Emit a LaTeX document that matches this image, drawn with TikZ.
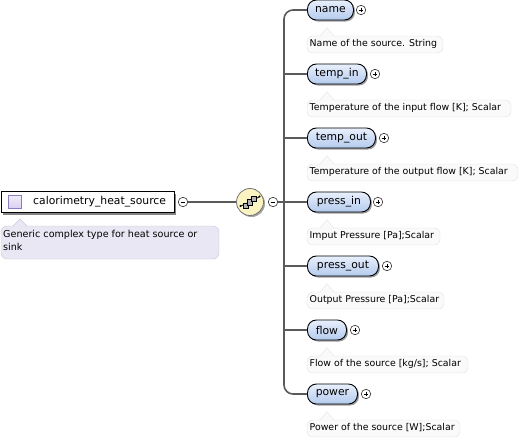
\documentclass[tikz,border=0pt]{standalone}
\usepackage{fontspec}
\setmainfont{DejaVu Sans}
\usetikzlibrary{shadows,calc}
\definecolor{linegray}{HTML}{5A5A5A}
\definecolor{elemtop}{HTML}{E8F0FC}
\definecolor{elembot}{HTML}{B4CAEE}
\definecolor{annfill}{HTML}{FAFAFA}
\definecolor{annline}{HTML}{E2E2E2}
\definecolor{rootann}{HTML}{E9E7F3}
\definecolor{rootannline}{HTML}{CBC7DE}
\definecolor{seqfill}{HTML}{FBF3C2}
\definecolor{iconfill}{HTML}{D8D0F0}
\definecolor{iconline}{HTML}{8C7CC0}
\tikzset{
  conn/.style={draw=linegray, line width=1.6pt},
  elem/.style={draw=black, line width=0.9pt, rounded corners=9pt, top color=elemtop, bottom color=elembot,
    minimum height=20pt, inner sep=0pt, anchor=west, font=\fontsize{10.8}{12}\selectfont,
    drop shadow={shadow xshift=1.5pt, shadow yshift=-1.5pt, fill=black!55, opacity=0.7}},
  pm/.style={circle, draw=black!80, fill=white, line width=0.6pt, minimum size=9.5pt, inner sep=0pt},
}
\newcommand{\plussign}[1]{\draw[line width=0.7pt] ($(#1)+(-2.4,0)$) -- ($(#1)+(2.4,0)$) ($(#1)+(0,-2.4)$) -- ($(#1)+(0,2.4)$);}
\newcommand{\minussign}[1]{\draw[line width=0.7pt] ($(#1)+(-2.4,0)$) -- ($(#1)+(2.4,0)$);}
\begin{document}
\begin{tikzpicture}[x=1pt,y=-1pt]
\useasboundingbox (0,0) rectangle (526,440);
\fill[white] (0,0) rectangle (526,440);

% root annotation
\draw[draw=rootannline, fill=rootann, rounded corners=6pt] (1,226) rectangle (219,259);
\fill[rootann] (13,226.6) -- (20,219) -- (27,226.6) -- cycle;
\draw[rootannline] (13,226) -- (20,219) -- (27,226);
\node[anchor=north west, inner sep=0pt, align=left, font=\fontsize{9.6}{13}\selectfont] (rootann) at (3,230)
  {Generic complex type for heat source or\\sink};

% root box
\node[draw=black, line width=1pt, fill=white, minimum width=173pt, minimum height=21pt, inner sep=0pt,
  drop shadow={shadow xshift=2pt, shadow yshift=-2pt, fill=black!60, opacity=0.8}, anchor=west] (root) at (0.5,202) {};
\node[draw=iconline, top color=iconfill!40, bottom color=iconfill, minimum size=13pt, inner sep=0pt, line width=0.8pt] (icon) at (15,202) {};
\node[anchor=west, inner sep=0pt, font=\fontsize{10.8}{12}\selectfont] (roottxt) at (33,202) {calorimetry\_heat\_source};

% root minus
\node[pm] (rm) at (183,202) {};
\minussign{rm}

% sequence compositor
\node[circle, draw=black!55, fill=seqfill, minimum width=27pt, inner sep=0pt, line width=0.8pt,
  drop shadow={shadow xshift=1.5pt, shadow yshift=-1.5pt, fill=black!50, opacity=0.7}] (seq) at (250,202) {};
\begin{scope}[shift={(250,202)}]
  \draw[line width=0.7pt] (-9,4) -- (9,-5);
  \fill (-9.5,4) circle (1.2pt); \fill (9.5,-5.5) circle (1.2pt);
  \draw[fill=gray!60, line width=0.6pt] (-7,1) rectangle (-1.5,6.5);
  \draw[fill=gray!60, line width=0.6pt] (-3,-2.5) rectangle (2.5,3);
  \draw[fill=gray!60, line width=0.6pt] (1,-6) rectangle (6.5,-0.5);
\end{scope}
\node[pm] (sm) at (273,202) {};
\minussign{sm}

\draw[conn] (rm.east) -- (seq.west);
\draw[conn] (sm.east) -- (284,202);

% children
\foreach \nm/\txt/\w/\y/\px/\ann/\aw in {
  n1/name/46/10/361/{Name of the source. String}/136,
  n2/temp\_in/59/74/375/{Temperature of the input flow [K]; Scalar}/204,
  n3/temp\_out/68/138/384/{Temperature of the output flow [K]; Scalar}/211,
  n4/press\_in/63/202/378/{Imput Pressure [Pa];Scalar}/133,
  n5/press\_out/71/266/387/{Output Pressure [Pa];Scalar}/137,
  n6/flow/39/330/355/{Flow of the source [kg/s]; Scalar}/161,
  n7/power/50/394/366/{Power of the source [W];Scalar}/153}{
  \node[elem, minimum width=\w pt] (\nm) at (307,\y) {\txt};
  \node[pm] (\nm p) at (\px,\y) {};
  \plussign{\nm p}
  \draw[draw=annline, fill=annfill, rounded corners=6pt] (307,\y+26) rectangle ++(\aw,17);
  \fill[annfill] (320,\y+26.6) -- (327,\y+18) -- (334,\y+26.6) -- cycle;
  \draw[annline] (320,\y+26) -- (327,\y+18) -- (334,\y+26);
  \node[anchor=west, inner sep=0pt, font=\fontsize{9.4}{10}\selectfont] (\nm a) at (309.5,\y+34) {\ann};
}

% connectors to children
\draw[conn, rounded corners=9pt] (n1.west) -| (284,202) |- (n7.west);
\foreach \nm in {n2,n3,n4,n5,n6}{
  \draw[conn] (284,0 |- \nm.west) -- (\nm.west);
}
\end{tikzpicture}
\end{document}
